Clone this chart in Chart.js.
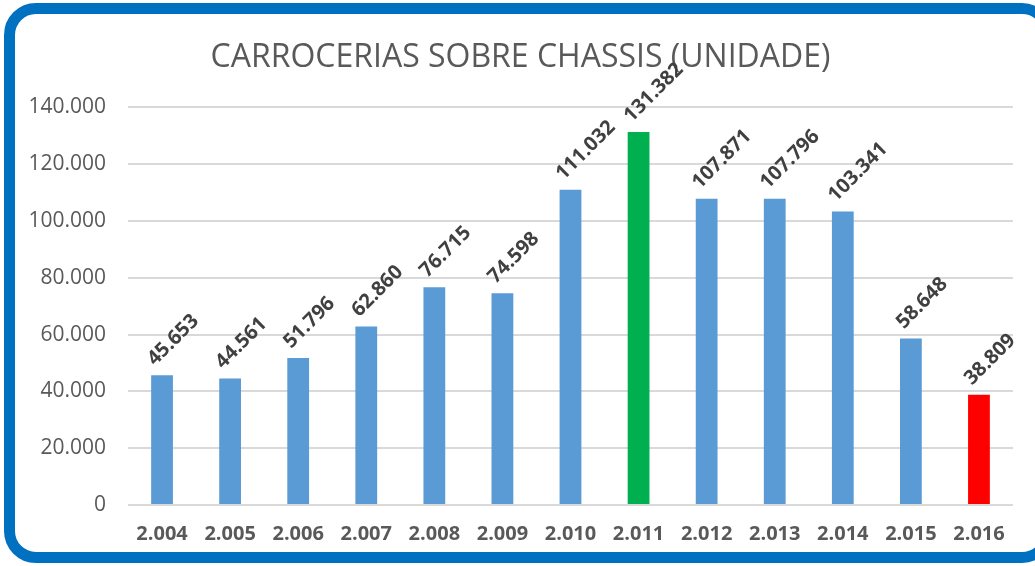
<html lang="pt">
<head>
  <meta charset="UTF-8">
  <title>Carrocerias sobre chassis</title>
  <style>
    * {box-sizing:border-box;margin:0;padding:0;}
    body {background:#fff;width:1035px;height:566px;overflow:hidden;position:relative;font-family:'Open Sans',sans-serif;}
    .frame {position:absolute;left:4px;top:3px;width:1050px;height:560px;border:11px solid #0070c0;border-radius:32px;background:#fff;}
    .wrap {position:absolute;left:0;top:0;width:1035px;height:566px;}
  </style>
</head>
<body>
  <div class="frame"></div>
  <div class="wrap"><canvas id="chart"></canvas></div>
  <script src="https://cdn.jsdelivr.net/npm/chart.js@4.4.1/dist/chart.umd.min.js"></script>
  <script>
    const years = ['2.004','2.005','2.006','2.007','2.008','2.009','2.010','2.011','2.012','2.013','2.014','2.015','2.016'];
    const units = [45653,44561,51796,62860,76715,74598,111032,131382,107871,107796,103341,58648,38809];
    const barColors = ['#5b9bd5','#5b9bd5','#5b9bd5','#5b9bd5','#5b9bd5','#5b9bd5','#5b9bd5','#00b050','#5b9bd5','#5b9bd5','#5b9bd5','#5b9bd5','#ff0000'];

    function fmt(v){
      return String(v).replace(/\B(?=(\d{3})+(?!\d))/g,'.');
    }

    // rotated value labels above each bar
    const valueLabels = {
      id:'valueLabels',
      afterDatasetsDraw(chart){
        const ctx = chart.ctx;
        const meta = chart.getDatasetMeta(0);
        ctx.save();
        ctx.fillStyle = '#404040';
        ctx.font = 'bold 20px "Open Sans"';
        ctx.textAlign = 'left';
        ctx.textBaseline = 'alphabetic';
        meta.data.forEach((bar,i)=>{
          ctx.save();
          ctx.translate(bar.x - 7, bar.y - 9);
          ctx.rotate(-Math.PI/4);
          ctx.fillText(fmt(units[i]),0,0);
          ctx.restore();
        });
        ctx.restore();
      }
    };

    new Chart(document.getElementById('chart'),{
      type:'bar',
      data:{labels:years,datasets:[{data:units,backgroundColor:barColors,barPercentage:0.32,categoryPercentage:1}]},
      plugins:[valueLabels],
      options:{
        responsive:true,
        maintainAspectRatio:false,
        animation:false,
        layout:{padding:{left:28,right:22,top:0,bottom:0}},
        plugins:{
          legend:{display:false},
          tooltip:{enabled:false},
          title:{display:true,text:'CARROCERIAS SOBRE CHASSIS (UNIDADE)',color:'#595959',
            font:{family:'Open Sans',size:32,weight:'normal'},padding:{top:39,bottom:30}}
        },
        scales:{
          x:{
            grid:{display:false},
            border:{display:false},
            ticks:{color:'#595959',padding:9,maxRotation:0,font:{family:'Open Sans',size:20,weight:'bold'}},
            afterFit(axis){ axis.height = 61; }
          },
          y:{
            min:0,max:140000,
            grid:{color:'#d9d9d9',lineWidth:2,drawTicks:false},
            border:{display:false},
            ticks:{stepSize:20000,color:'#595959',padding:22,font:{family:'Open Sans',size:21},
              callback:v=>fmt(v)},
            afterFit(axis){ axis.width = 100; }
          }
        }
      }
    });
  </script>
</body>
</html>
